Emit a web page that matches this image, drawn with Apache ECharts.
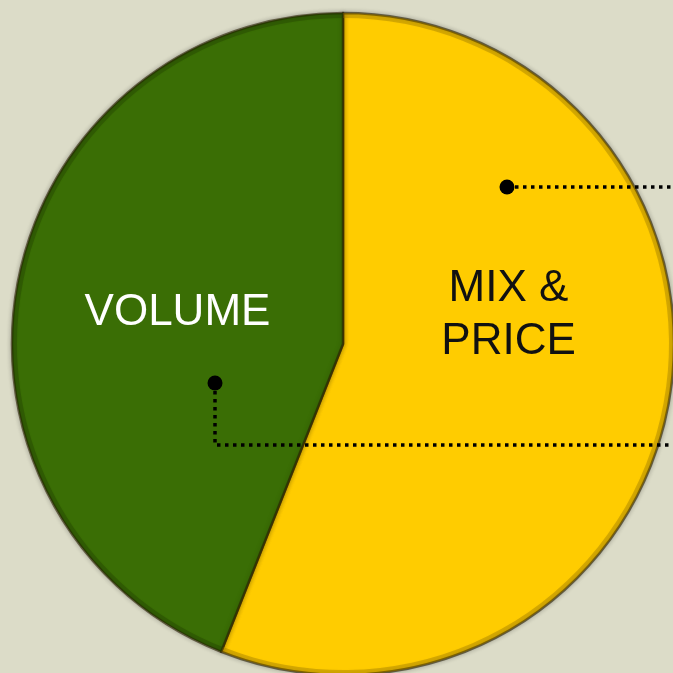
<!DOCTYPE html>
<html lang="en" style="height: 100%">
<head>
  <meta charset="utf-8">
</head>
<body style="height: 100%; margin: 0; background: #dcdcc8">
  <div id="container" style="width: 673px; height: 673px"></div>

  <script type="text/javascript" src="https://cdn.jsdelivr.net/npm/echarts@6/dist/echarts.min.js"></script>

  <script type="text/javascript">
    // slice data, clockwise from 12 o'clock
    const sliceNames = ['MIX &\nPRICE', 'VOLUME'];
    const sliceValues = [56, 44];
    const sliceColors = ['#ffcc00', '#3a6e05'];
    const rimColors = ['#8a6a00', '#1f3d02'];
    const labelColors = ['#111111', '#ffffff'];

    var dom = document.getElementById('container');
    var myChart = echarts.init(dom, null, { renderer: 'canvas' });

    var dotted = { stroke: '#000', lineWidth: 3.5, lineDash: [3.5, 4.5], fill: null };

    var option = {
      backgroundColor: '#dcdcc8',
      animation: false,
      series: [
        {
          type: 'pie',
          center: [343, 344],
          radius: [0, 331],
          startAngle: 90,
          clockwise: true,
          silent: true,
          itemStyle: {
            borderColor: 'rgba(40,30,0,0.6)',
            borderWidth: 2.5,
            shadowColor: 'rgba(0,0,0,0.3)',
            shadowBlur: 5
          },
          label: {
            show: true,
            position: 'inside',
            fontFamily: 'Liberation Sans',
            fontSize: 44,
            lineHeight: 53
          },
          labelLayout: function (params) {
            if (params.dataIndex === 0) return { dy: -60 };
          },
          data: sliceNames.map(function (n, i) {
            return {
              name: n,
              value: sliceValues[i],
              itemStyle: { color: sliceColors[i] },
              label: { color: labelColors[i], formatter: '{b}' }
            };
          })
        },
        {
          // thin darker rim for the bevelled edge
          type: 'pie',
          center: [343, 344],
          radius: [326, 331],
          startAngle: 90,
          silent: true,
          label: { show: false },
          labelLine: { show: false },
          itemStyle: { opacity: 0.35 },
          data: sliceValues.map(function (v, i) {
            return { value: v, itemStyle: { color: rimColors[i] } };
          })
        }
      ],
      graphic: [
        { type: 'polyline', shape: { points: [[507, 187], [673, 187]] }, style: dotted, z: 10 },
        { type: 'circle', shape: { cx: 507, cy: 187, r: 7.5 }, style: { fill: '#000' }, z: 11 },
        { type: 'polyline', shape: { points: [[215, 383], [215, 445], [673, 445]] }, style: dotted, z: 10 },
        { type: 'circle', shape: { cx: 215, cy: 383, r: 7.5 }, style: { fill: '#000' }, z: 11 }
      ]
    };

    myChart.setOption(option);
    window.addEventListener('resize', myChart.resize);
  </script>
</body>
</html>
